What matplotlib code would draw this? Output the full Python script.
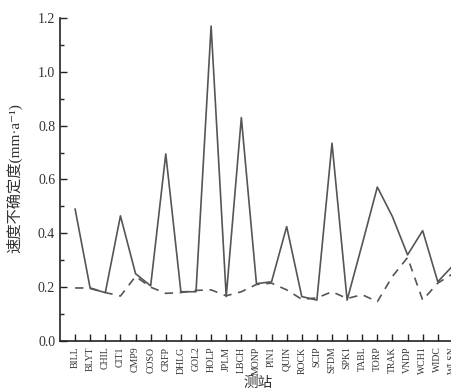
import numpy as np
import matplotlib
matplotlib.use("Agg")
import matplotlib.pyplot as plt
from matplotlib.ticker import MultipleLocator

plt.rcParams['font.family'] = ['Liberation Serif', 'Noto Sans CJK SC', 'DejaVu Sans']

stations = ['BILL', 'BLYT', 'CHIL', 'CIT1', 'CMP9', 'COSO', 'CRFP', 'DHLG', 'GOL2',
            'HOLP', 'JPLM', 'LBCH', 'MONP', 'PIN1', 'QUIN', 'ROCK', 'SCIP', 'SFDM',
            'SPK1', 'TABL', 'TORP', 'TRAK', 'VNDP', 'WCH1', 'WIDC', 'WLSN']
solid_vals = [0.49, 0.195, 0.18, 0.465, 0.25, 0.205, 0.695, 0.183, 0.183,
              1.17, 0.165, 0.83, 0.213, 0.22, 0.425, 0.165, 0.152, 0.735,
              0.152, 0.36, 0.572, 0.462, 0.32, 0.41, 0.22, 0.28]
dashed_vals = [0.197, 0.197, 0.18, 0.167, 0.24, 0.2, 0.177, 0.18, 0.188,
               0.19, 0.168, 0.183, 0.21, 0.215, 0.19, 0.155, 0.16, 0.183,
               0.158, 0.172, 0.146, 0.24, 0.31, 0.152, 0.215, 0.25]

fig = plt.figure(figsize=(4.52, 3.89), dpi=100)
ax = fig.add_axes([60/452, 48/389, 408/452, 323/389])

x = np.arange(len(stations))
ax.plot(x, solid_vals, '-', color='#555555', lw=1.2)
ax.plot(x, dashed_vals, '--', color='#555555', lw=1.2, dashes=(5, 4))

ax.set_xlim(-1, 26)
ax.set_ylim(0, 1.2)
ax.set_xticks(x)
ax.set_xticklabels(stations, rotation=90, fontsize=7, color='#333333')
ax.yaxis.set_major_locator(MultipleLocator(0.2))
ax.yaxis.set_minor_locator(MultipleLocator(0.1))
ax.set_yticklabels(['{:.1f}'.format(v) for v in ax.get_yticks()], fontsize=10, color='#333333')
ax.tick_params(axis='both', which='both', direction='in', color='#222222')
ax.tick_params(which='major', length=5, width=1)
ax.tick_params(which='minor', length=3, width=1)
ax.tick_params(axis='x', pad=4)
ax.spines['top'].set_visible(False)
ax.spines['right'].set_visible(False)
for s in ['left', 'bottom']:
    ax.spines[s].set_linewidth(1.2)
    ax.spines[s].set_color('#222222')

ax.set_ylabel('速度不确定度(mm·a⁻¹)', fontsize=11, color='#333333',
              family=['Liberation Serif', 'Noto Sans CJK SC', 'DejaVu Sans'])
ax.yaxis.set_label_coords((22 - 60) / 408, (341 - 178) / 323)
ax.set_xlabel('测站', fontsize=10.5, color='#333333',
              family=['Noto Sans CJK SC', 'DejaVu Sans'], va='top')
ax.xaxis.set_label_coords((258 - 60) / 408, (341 - 376) / 323)

fig.savefig('out.png', dpi=100)
